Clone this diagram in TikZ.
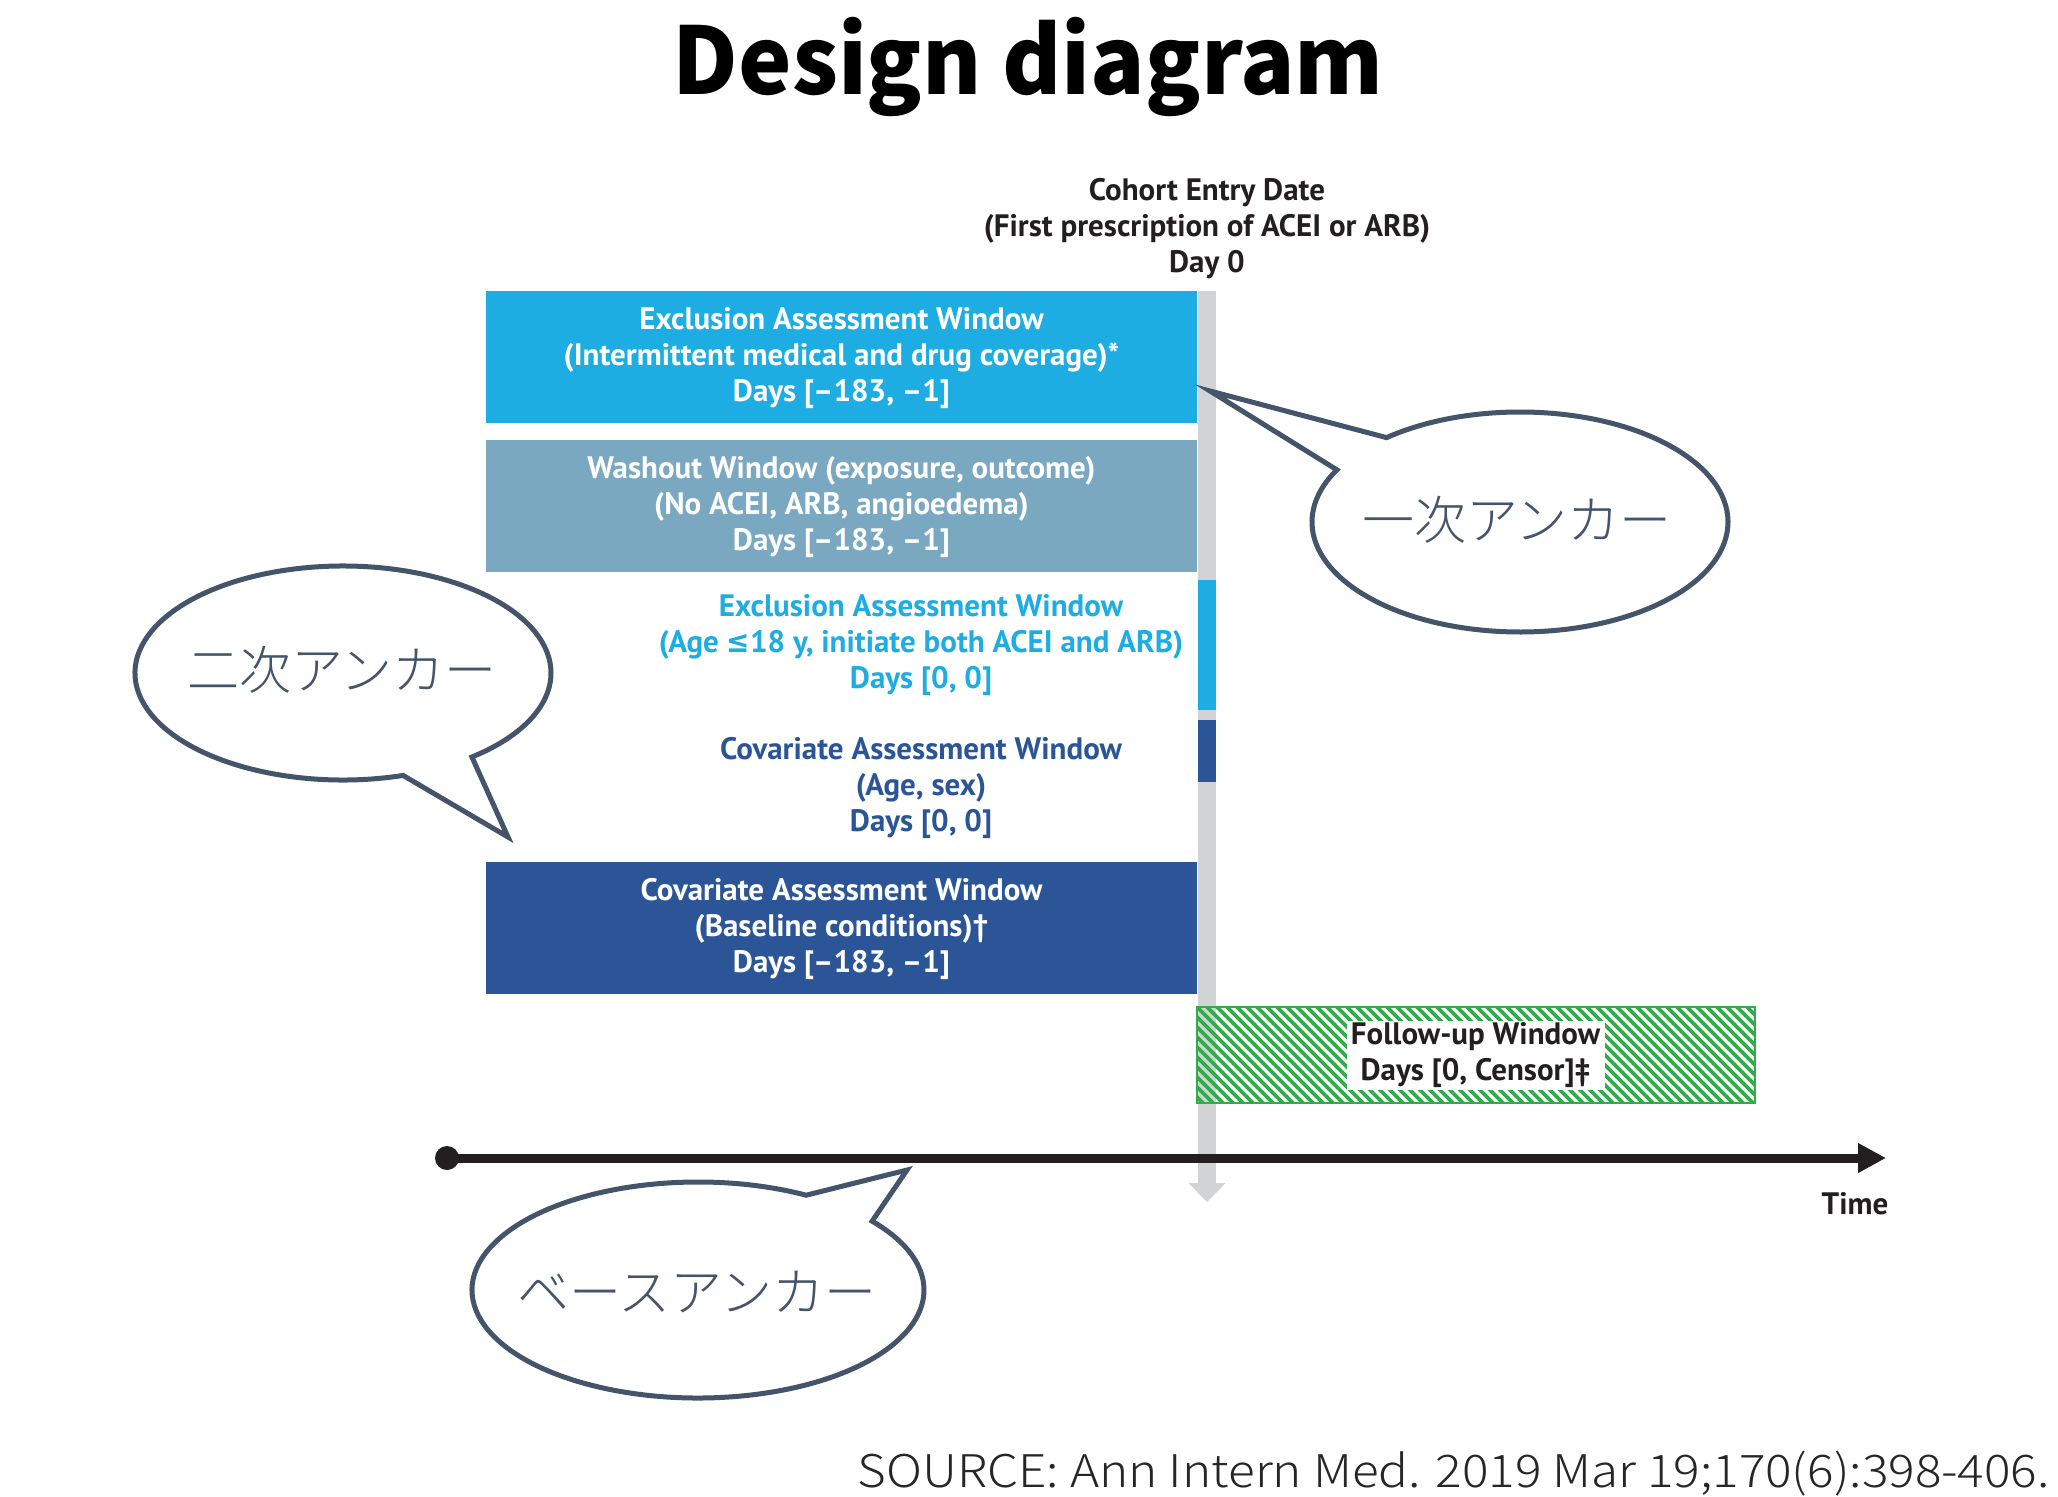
\documentclass[tikz,border=0pt]{standalone}
\usepackage{fontspec}
\setmainfont{PT Sans}
\newfontfamily\boxfont{PT Sans}
\newfontfamily\symfont{DejaVu Sans}[FakeStretch=0.9]
\IfFontExistsTF{Noto Sans CJK JP Light}
  {\newfontfamily\cjkfont{Noto Sans CJK JP Light}
   \newfontfamily\srcfont{Noto Sans CJK JP Light}[FakeStretch=1.10]}
  {\newfontfamily\cjkfont{Noto Sans CJK JP}
   \newfontfamily\srcfont{Noto Sans CJK JP}[FakeStretch=1.10]}
\newfontfamily\titlefont{Noto Sans CJK JP}[FakeStretch=0.97]
\usetikzlibrary{arrows.meta}
\definecolor{cyanbox}{HTML}{1DADE3}
\definecolor{washbox}{HTML}{7AA8C1}
\definecolor{darkbox}{HTML}{2B5597}
\definecolor{graybar}{HTML}{D1D3D4}
\definecolor{hatchgreen}{HTML}{33AA4C}
\definecolor{bubcol}{HTML}{44546A}
\definecolor{tlcol}{HTML}{231F20}
\definecolor{srccol}{HTML}{262626}
\tikzset{
  wintext/.style={font={\boxfont\bfseries\fontsize{31}{36}\selectfont}, align=center, inner sep=0pt},
  bubtext/.style={font={\cjkfont\fontsize{52}{60}\selectfont}, text=bubcol, inner sep=0pt},
  bubble/.style={draw=bubcol, line width=5pt, fill=white, line join=miter}
}
\begin{document}
\begin{tikzpicture}[x=1pt,y=1pt]
\useasboundingbox (0,0) rectangle (2058,-1496);
\fill[white] (0,0) rectangle (2058,-1496);

% title
\node[font={\titlefont\bfseries\fontsize{93}{100}\selectfont}, anchor=base, inner sep=0pt] (title) at (1028,-94) {Design diagram};

% cohort entry
\node[wintext, text=tlcol] (cohort) at (1207,-229) {Cohort Entry Date\\(First prescription of ACEI or ARB)\\Day 0};

% gray day-0 bar
\coordinate (gtop) at (1207,-291);
\coordinate (gbot) at (1207,-1202);
\draw[graybar, line width=18pt, -{Triangle[length=19pt,width=36pt]}] (gtop) -- (gbot);

% window boxes
\fill[cyanbox] (486,-291) rectangle (1197,-423);
\fill[washbox] (486,-440) rectangle (1197,-572);
\fill[darkbox] (486,-862) rectangle (1197,-994);
\fill[cyanbox] (1198,-580) rectangle (1216,-710);
\fill[darkbox] (1198,-720) rectangle (1216,-782);

\node[wintext, text=white] (ex1) at (841.5,-358) {Exclusion Assessment Window\\(Intermittent medical and drug coverage)*\\Days [–183, –1]};
\node[wintext, text=white] (wash) at (841.5,-507) {Washout Window (exposure, outcome)\\(No ACEI, ARB, angioedema)\\Days [–183, –1]};
\node[wintext, text=cyanbox] (ex2) at (921,-645) {Exclusion Assessment Window\\(Age {\symfont\bfseries ≤}18 y, initiate both ACEI and ARB)\\Days [0, 0]};
\node[wintext, text=darkbox] (cov1) at (921,-788) {Covariate Assessment Window\\(Age, sex)\\Days [0, 0]};
\node[wintext, text=white] (cov2) at (841.5,-929) {Covariate Assessment Window\\(Baseline conditions)†\\Days [–183, –1]};

% follow-up window
\begin{scope}
\clip (1197,-1007) rectangle (1755,-1103);
\foreach \x in {1095,1105,...,1765}
  \draw[hatchgreen, line width=3.6pt] (\x,-1005) -- (\x+100,-1105);
\end{scope}
\draw[hatchgreen, line width=2pt] (1197,-1007) rectangle (1755,-1103);
\node[wintext, text=tlcol, fill=white, minimum width=258pt, minimum height=69pt] (fu) at (1475.5,-1055.5) {Follow-up Window\\Days [0, Censor]‡};

% timeline
\node[circle, fill=tlcol, minimum size=24pt, inner sep=0pt] (dot) at (447,-1158) {};
\coordinate (tend) at (1886,-1158);
\draw[tlcol, line width=9pt, -{Triangle[length=28pt,width=28pt]}] (dot.center) -- (tend);
\node[wintext, text=tlcol, anchor=base] (time) at (1855,-1214) {Time};

% bubbles
\draw[bubble] (1210,-391) -- ([shift={(1520,-522)}]129.9:208pt and 110pt)
  arc[start angle=129.9, end angle=-208.3, x radius=208pt, y radius=110pt] -- cycle;
\node[bubtext] (b1) at (1517,-520) {一次アンカー};

\draw[bubble] (508,-837) -- ([shift={(343,-673)}]-73.2:208pt and 107pt)
  arc[start angle=-73.2, end angle=-411.7, x radius=208pt, y radius=107pt] -- cycle;
\node[bubtext] (b2) at (342,-670) {二次アンカー};

\draw[bubble] (907,-1170) -- ([shift={(698,-1290)}]61.4:226pt and 108pt)
  arc[start angle=61.4, end angle=399.6, x radius=226pt, y radius=108pt] -- cycle;
\node[bubtext] (b3) at (697,-1292) {ベースアンカー};

% source
\node[font={\srcfont\fontsize{45}{50}\selectfont}, text=srccol, anchor=base east, inner sep=0pt] (src) at (2050,-1487) {SOURCE: Ann Intern Med. 2019 Mar 19;170(6):398-406.};
\end{tikzpicture}
\end{document}
